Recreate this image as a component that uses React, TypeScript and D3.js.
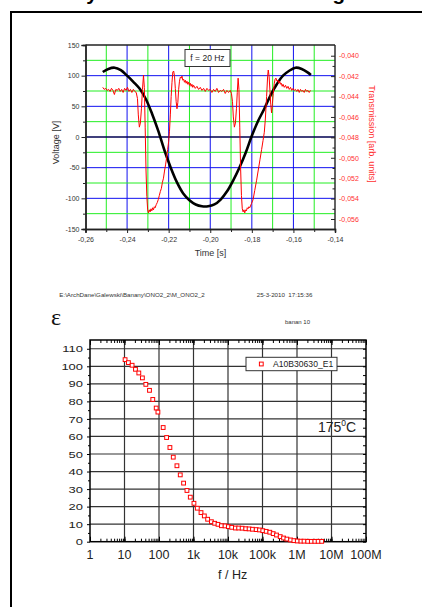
import { useEffect, useRef } from "react";
import * as d3 from "d3";

// ---- top panel: voltage (left axis) and transmission (right axis) vs time ----
const voltageSeries: [number, number][] = [
  [-0.2517, 106], [-0.249, 111], [-0.246, 113], [-0.243, 109], [-0.24, 100],
  [-0.237, 90], [-0.234, 79], [-0.231, 62], [-0.228, 38], [-0.225, 10],
  [-0.222, -22], [-0.219, -50], [-0.216, -74], [-0.213, -92], [-0.21, -103],
  [-0.207, -110], [-0.204, -113], [-0.201, -113], [-0.198, -110], [-0.195, -102],
  [-0.192, -89], [-0.189, -71], [-0.186, -50], [-0.183, -26], [-0.18, 2],
  [-0.177, 26], [-0.174, 46], [-0.171, 68], [-0.168, 86], [-0.165, 100],
  [-0.162, 108], [-0.159, 113], [-0.156, 111], [-0.153, 105], [-0.1516, 101],
];

const transmissionSeries: [number, number][] = [
  [-0.2517, -0.0431], [-0.251, -0.0433], [-0.2503, -0.0432], [-0.2496, -0.0434],
  [-0.2489, -0.0433], [-0.2482, -0.0435], [-0.2475, -0.0432], [-0.2468, -0.0434],
  [-0.2461, -0.0438], [-0.2454, -0.0433], [-0.2447, -0.0434], [-0.244, -0.0432],
  [-0.2433, -0.0435], [-0.2426, -0.0433], [-0.2419, -0.0436], [-0.2412, -0.0432],
  [-0.2405, -0.0434], [-0.2398, -0.0431], [-0.2391, -0.0435], [-0.2384, -0.0433],
  [-0.2377, -0.0436], [-0.237, -0.0433], [-0.2363, -0.0435], [-0.2356, -0.0436],
  [-0.235, -0.0442], [-0.2346, -0.0458], [-0.2341, -0.047], [-0.2336, -0.0466],
  [-0.2331, -0.0452], [-0.2326, -0.0433], [-0.2321, -0.0419], [-0.2317, -0.0431],
  [-0.2313, -0.047], [-0.2309, -0.0512], [-0.2305, -0.0538], [-0.2301, -0.0551],
  [-0.2297, -0.0554], [-0.2293, -0.0551], [-0.2289, -0.0553], [-0.2285, -0.055],
  [-0.2281, -0.0552], [-0.2277, -0.0549], [-0.2273, -0.0551], [-0.2269, -0.0548],
  [-0.2265, -0.0549], [-0.226, -0.0546], [-0.2255, -0.0544], [-0.225, -0.0541],
  [-0.2245, -0.0537], [-0.224, -0.0533], [-0.2235, -0.053], [-0.223, -0.0524],
  [-0.2225, -0.052], [-0.222, -0.0513], [-0.2215, -0.0507], [-0.221, -0.05],
  [-0.2205, -0.0492], [-0.22, -0.0484], [-0.2196, -0.0474], [-0.2192, -0.0458],
  [-0.2188, -0.044], [-0.2184, -0.0426], [-0.218, -0.0416], [-0.2176, -0.0415],
  [-0.2172, -0.042], [-0.2168, -0.0432], [-0.2164, -0.0445], [-0.216, -0.0452],
  [-0.2156, -0.0446], [-0.2152, -0.0433], [-0.2148, -0.0425], [-0.2144, -0.0421],
  [-0.214, -0.0422], [-0.2136, -0.042], [-0.2132, -0.0424], [-0.2128, -0.0423],
  [-0.2124, -0.0426], [-0.212, -0.0424], [-0.2116, -0.0427], [-0.2112, -0.0425],
  [-0.2108, -0.0428], [-0.2104, -0.0426], [-0.21, -0.0429], [-0.2096, -0.0427],
  [-0.2092, -0.043], [-0.2088, -0.0428], [-0.2084, -0.0431], [-0.208, -0.0429],
  [-0.2072, -0.0432], [-0.2064, -0.043], [-0.2056, -0.0433], [-0.2048, -0.0431],
  [-0.204, -0.0434], [-0.2032, -0.0432], [-0.2024, -0.0435], [-0.2016, -0.0432],
  [-0.2008, -0.0434], [-0.2, -0.0433], [-0.1992, -0.0436], [-0.1984, -0.0433],
  [-0.1976, -0.0435], [-0.1968, -0.0432], [-0.196, -0.0436], [-0.1952, -0.0434],
  [-0.1944, -0.0435], [-0.1936, -0.0433], [-0.1928, -0.0437], [-0.192, -0.0434],
  [-0.1912, -0.0436], [-0.1904, -0.0434], [-0.1898, -0.0437], [-0.1893, -0.0445],
  [-0.1889, -0.046], [-0.1884, -0.047], [-0.1879, -0.0466], [-0.1874, -0.0452],
  [-0.187, -0.0436], [-0.1866, -0.0422], [-0.1862, -0.0433], [-0.1858, -0.047],
  [-0.1854, -0.051], [-0.185, -0.0537], [-0.1846, -0.055], [-0.1842, -0.0553],
  [-0.1838, -0.0551], [-0.1834, -0.0554], [-0.183, -0.0551], [-0.1826, -0.0552],
  [-0.1822, -0.0549], [-0.1818, -0.055], [-0.1814, -0.0548], [-0.181, -0.0549],
  [-0.1802, -0.0545], [-0.1794, -0.0541], [-0.1786, -0.0532], [-0.1777, -0.0522],
  [-0.1769, -0.0512], [-0.1761, -0.0502], [-0.1753, -0.0492], [-0.1746, -0.0483],
  [-0.174, -0.0475], [-0.1735, -0.0462], [-0.1729, -0.044], [-0.1724, -0.042],
  [-0.1721, -0.0414], [-0.1717, -0.042], [-0.1713, -0.0434], [-0.1709, -0.0448],
  [-0.1705, -0.0456], [-0.1701, -0.0447], [-0.1697, -0.0437], [-0.1692, -0.0427],
  [-0.1688, -0.0423], [-0.1684, -0.0422], [-0.1679, -0.0425], [-0.1674, -0.0424],
  [-0.167, -0.0427], [-0.1666, -0.0425], [-0.1662, -0.0428], [-0.1658, -0.0427],
  [-0.1654, -0.043], [-0.165, -0.0428], [-0.1644, -0.0431], [-0.1638, -0.0429],
  [-0.1632, -0.0432], [-0.1626, -0.043], [-0.162, -0.0433], [-0.1614, -0.0431],
  [-0.1608, -0.0434], [-0.1602, -0.0432], [-0.1596, -0.0434], [-0.159, -0.0433],
  [-0.1584, -0.0435], [-0.1578, -0.0433], [-0.1572, -0.0436], [-0.1566, -0.0433],
  [-0.156, -0.0435], [-0.1554, -0.0434], [-0.1548, -0.0436], [-0.1542, -0.0433],
  [-0.1536, -0.0435], [-0.153, -0.0434], [-0.1524, -0.0436], [-0.1518, -0.0434],
];

const timeTicks = [-0.26, -0.24, -0.22, -0.2, -0.18, -0.16, -0.14];
const timeMinorTicks = [-0.25, -0.23, -0.21, -0.19, -0.17, -0.15];
const voltageTicks = [-150, -100, -50, 0, 50, 100, 150];
const voltageMinorTicks = [-125, -75, -25, 25, 75, 125];
const transTicks = [-0.04, -0.042, -0.044, -0.046, -0.048, -0.05, -0.052, -0.054, -0.056];
const transMinorTicks = [-0.041, -0.043, -0.045, -0.047, -0.049, -0.051, -0.053, -0.055];

// ---- bottom panel: permittivity vs frequency ----
const freqHz = [
  10.4, 13, 16.6, 20.8, 26, 33, 41.5, 53, 66, 83, 93, 132, 166, 207, 259, 331, 413,
  516, 646, 807, 1030, 1290, 1650, 2060, 2570, 3300, 4110, 5130, 6450, 8220, 10250,
  12800, 16400, 20400, 25700, 32700, 40900, 51300, 65600, 81900, 102000, 128000,
  163000, 204000, 255000, 326000, 408000, 509000, 652000, 813000, 1020000, 1300000,
  1600000, 2050000, 2600000, 3300000, 4100000, 5200000,
];
const epsilon = [
  103.8, 102.1, 100.6, 98.3, 96.2, 93.4, 89.7, 86.3, 81.1, 76.2, 73.9, 65.1, 59.4,
  53.7, 48.2, 43.3, 38.1, 33.4, 29.2, 25.4, 21.9, 19.1, 16.6, 14.7, 12.8, 11.4, 10.5,
  9.9, 9.1, 9.0, 8.6, 8.2, 7.8, 7.8, 7.7, 7.4, 7.3, 7.1, 6.9, 6.7, 6.3, 5.9, 5.4, 4.6,
  3.8, 2.9, 2.1, 1.5, 1.0, 0.6, 0.4, 0.3, 0.3, 0.2, 0.2, 0.2, 0.2, 0.2,
];
const freqTicks = [1, 10, 100, 1e3, 1e4, 1e5, 1e6, 1e7, 1e8];
const freqLabels = ["1", "10", "100", "1k", "10k", "100k", "1M", "10M", "100M"];
const epsTicks = [0, 10, 20, 30, 40, 50, 60, 70, 80, 90, 100, 110];
const epsMinorTicks = [5, 15, 25, 35, 45, 55, 65, 75, 85, 95, 105];

const FONT = "Arial, 'Liberation Sans', sans-serif";
const GREEN = "#22ee22";
const BLUE = "#1010f0";
const RED = "#ff0000";

const App = () => {
  const ref = useRef<SVGSVGElement>(null);

  useEffect(() => {
    const svg = d3.select(ref.current);
    svg.selectAll("*").remove();

    // page frame and cut-off heading
    svg.append("path")
      .attr("d", "M11,607 L11,12 L440,12")
      .attr("fill", "none")
      .attr("stroke", "#000")
      .attr("stroke-width", 2);
    svg.append("text")
      .attr("x", 71.5)
      .attr("y", 0.3)
      .attr("font-family", FONT)
      .attr("font-weight", "bold")
      .attr("font-size", 20.5)
      .text("Dynamic Kerr cell switching");

    // ===== top chart =====
    const T = { left: 85.5, right: 335, top: 45, bottom: 229 };
    const tx = d3.scaleLinear().domain([-0.26, -0.14]).range([T.left, T.right]);
    const vy = d3.scaleLinear().domain([-150, 150]).range([T.bottom, T.top]);
    const ry = d3.scaleLinear().domain([-0.05698, -0.03895]).range([T.bottom, T.top]);
    const g1 = svg.append("g");

    // grid
    const vLines = [
      ...timeMinorTicks.map((t) => ({ t, c: GREEN })),
      ...timeTicks.slice(1, -1).map((t) => ({ t, c: BLUE })),
    ];
    g1.selectAll(".gv").data(vLines).enter().append("line")
      .attr("x1", (d) => tx(d.t)).attr("x2", (d) => tx(d.t))
      .attr("y1", T.top).attr("y2", T.bottom)
      .attr("stroke", (d) => d.c).attr("stroke-width", 1);
    const hLines = [
      ...voltageMinorTicks.map((v) => ({ v, c: GREEN, w: 1 })),
      ...[-100, -50, 50, 100].map((v) => ({ v, c: BLUE, w: 1 })),
      { v: 0, c: "#000050", w: 1.3 },
    ];
    g1.selectAll(".gh").data(hLines).enter().append("line")
      .attr("x1", T.left).attr("x2", T.right)
      .attr("y1", (d) => vy(d.v)).attr("y2", (d) => vy(d.v))
      .attr("stroke", (d) => d.c).attr("stroke-width", (d) => d.w);

    // voltage curve
    const vLine = d3.line<[number, number]>()
      .x((d) => tx(d[0])).y((d) => vy(d[1]))
      .curve(d3.curveCatmullRom);
    g1.append("path").datum(voltageSeries)
      .attr("d", vLine).attr("fill", "none")
      .attr("stroke", "#000").attr("stroke-width", 2.6);

    // transmission curve
    const rLine = d3.line<[number, number]>()
      .x((d) => tx(d[0])).y((d) => ry(d[1]));
    g1.append("path").datum(transmissionSeries)
      .attr("d", rLine).attr("fill", "none")
      .attr("stroke", RED).attr("stroke-width", 1);

    // f = 20 Hz box
    g1.append("rect")
      .attr("x", 185).attr("y", 49.5).attr("width", 45).attr("height", 17)
      .attr("fill", "#fff").attr("stroke", "#333").attr("stroke-width", 1);
    g1.append("text")
      .attr("x", 207.5).attr("y", 61)
      .attr("text-anchor", "middle")
      .attr("font-family", FONT).attr("font-size", 8.5).attr("fill", "#222")
      .text("f = 20 Hz");

    const styleAxis = (sel: any, color: string, size: number) => {
      sel.selectAll("path.domain").attr("stroke", "#222").attr("stroke-width", 1.4);
      sel.selectAll(".tick line").attr("stroke", "#222").attr("stroke-width", 1);
      sel.selectAll("text")
        .attr("font-family", FONT).attr("font-size", size).attr("fill", color);
      sel.attr("font-family", null).attr("font-size", null);
    };

    const ax1 = g1.append("g").attr("transform", `translate(${T.left},0)`)
      .call(d3.axisLeft(vy).tickValues(voltageTicks).tickSize(4).tickPadding(2)
        .tickFormat((d) => String(d)));
    styleAxis(ax1, "#333", 7);
    const ax1m = g1.append("g").attr("transform", `translate(${T.left},0)`)
      .call(d3.axisLeft(vy).tickValues(voltageMinorTicks).tickSize(2.5).tickFormat(() => ""));
    styleAxis(ax1m, "#333", 7);

    const ax2 = g1.append("g").attr("transform", `translate(0,${T.bottom})`)
      .call(d3.axisBottom(tx).tickValues(timeTicks).tickSize(4).tickPadding(4)
        .tickFormat((d) => (+d).toFixed(2).replace(".", ",")));
    styleAxis(ax2, "#333", 7);
    const ax2m = g1.append("g").attr("transform", `translate(0,${T.bottom})`)
      .call(d3.axisBottom(tx).tickValues(timeMinorTicks).tickSize(3).tickFormat(() => ""));
    styleAxis(ax2m, "#333", 7);

    const ax3 = g1.append("g").attr("transform", `translate(${T.right},0)`)
      .call(d3.axisRight(ry).tickValues(transTicks).tickSize(-4).tickPadding(4)
        .tickFormat((d) => (+d).toFixed(3).replace(".", ",")));
    styleAxis(ax3, "#ff3030", 7);
    ax3.selectAll("path.domain").attr("d", `M0,${T.top}V${T.bottom}`);
    const ax3m = g1.append("g").attr("transform", `translate(${T.right},0)`)
      .call(d3.axisRight(ry).tickValues(transMinorTicks).tickSize(-2.5).tickFormat(() => ""));
    styleAxis(ax3m, "#ff3030", 7);
    ax3m.selectAll("path.domain").remove();

    g1.append("line")
      .attr("x1", T.left).attr("x2", T.right).attr("y1", T.top).attr("y2", T.top)
      .attr("stroke", "#222").attr("stroke-width", 1.4);

    g1.append("text")
      .attr("transform", `translate(59,142.5) rotate(-90)`)
      .attr("text-anchor", "middle")
      .attr("font-family", FONT).attr("font-size", 9).attr("fill", "#333")
      .text("Voltage [V]");
    g1.append("text")
      .attr("transform", `translate(369,134) rotate(90)`)
      .attr("text-anchor", "middle")
      .attr("font-family", FONT).attr("font-size", 9).attr("fill", "#ff3030")
      .text("Transmission [arb. units]");
    g1.append("text")
      .attr("x", 210.5).attr("y", 256)
      .attr("text-anchor", "middle")
      .attr("font-family", FONT).attr("font-size", 9).attr("fill", "#333")
      .text("Time [s]");

    // ===== header texts for bottom chart =====
    svg.append("text")
      .attr("x", 59.3).attr("y", 297)
      .attr("font-family", FONT).attr("font-size", 6.2).attr("fill", "#333")
      .text("E:\\ArchDane\\Galewski\\Banany\\ONO2_2\\M_ONO2_2");
    svg.append("text")
      .attr("x", 256.7).attr("y", 297)
      .attr("font-family", FONT).attr("font-size", 6.2).attr("fill", "#333")
      .text("25-3-2010");
    svg.append("text")
      .attr("x", 288.3).attr("y", 297)
      .attr("font-family", FONT).attr("font-size", 6.2).attr("fill", "#333")
      .text("17:15:36");
    svg.append("text")
      .attr("x", 297.5).attr("y", 323.5)
      .attr("text-anchor", "middle")
      .attr("font-family", FONT).attr("font-size", 6).attr("fill", "#333")
      .text("banan 10");
    svg.append("text")
      .attr("x", 51).attr("y", 325)
      .attr("font-family", "'Liberation Serif', 'DejaVu Serif', serif")
      .attr("font-size", 24).attr("fill", "#111")
      .text("ε");

    // ===== bottom chart =====
    const B = { left: 90, right: 366, top: 340, bottom: 541.7 };
    const fx = d3.scaleLog().domain([1, 1e8]).range([B.left, B.right]);
    const ey = d3.scaleLinear().domain([0, 115]).range([B.bottom, B.top]);
    const g2 = svg.append("g");

    g2.selectAll(".bv").data(freqTicks.slice(1, -1)).enter().append("line")
      .attr("x1", (d) => fx(d)).attr("x2", (d) => fx(d))
      .attr("y1", B.top).attr("y2", B.bottom)
      .attr("stroke", "#333").attr("stroke-width", 1.2);
    g2.selectAll(".bh").data(epsTicks.slice(1)).enter().append("line")
      .attr("x1", B.left).attr("x2", B.right)
      .attr("y1", (d) => ey(d)).attr("y2", (d) => ey(d))
      .attr("stroke", "#333").attr("stroke-width", 1.2);

    const minorF = fx.ticks();
    const tickAxis = (axis: any, tf: string) => {
      const a = g2.append("g").attr("transform", tf).call(axis);
      a.selectAll("path.domain").remove();
      a.selectAll(".tick line").attr("stroke", "#000").attr("stroke-width", 1);
      a.selectAll("text").remove();
      return a;
    };
    tickAxis(d3.axisBottom(fx).tickValues(minorF).tickSize(-3), `translate(0,${B.bottom})`);
    tickAxis(d3.axisBottom(fx).tickValues(freqTicks).tickSize(-5), `translate(0,${B.bottom})`);
    tickAxis(d3.axisTop(fx).tickValues(minorF).tickSize(-3), `translate(0,${B.top})`);
    tickAxis(d3.axisTop(fx).tickValues(freqTicks).tickSize(-5), `translate(0,${B.top})`);
    tickAxis(d3.axisLeft(ey).tickValues(epsTicks).tickSize(3), `translate(${B.left},0)`);
    tickAxis(d3.axisLeft(ey).tickValues(epsMinorTicks).tickSize(2), `translate(${B.left},0)`);
    tickAxis(d3.axisRight(ey).tickValues([...epsTicks, ...epsMinorTicks]).tickSize(-3), `translate(${B.right},0)`);

    g2.append("rect")
      .attr("x", B.left).attr("y", B.top)
      .attr("width", B.right - B.left).attr("height", B.bottom - B.top)
      .attr("fill", "none").attr("stroke", "#000").attr("stroke-width", 1.5);

    // tick labels
    g2.selectAll(".xl").data(freqTicks).enter().append("text")
      .attr("x", (d) => fx(d)).attr("y", 559.3)
      .attr("text-anchor", "middle")
      .attr("font-family", FONT).attr("font-size", 12.5).attr("fill", "#222")
      .text((d, i) => freqLabels[i]);
    g2.selectAll(".yl").data(epsTicks).enter().append("text")
      .attr("transform", (d) => `translate(83,${ey(d) + 3.6}) scale(1.08,0.82)`)
      .attr("text-anchor", "end")
      .attr("font-family", FONT).attr("font-size", 12).attr("fill", "#222")
      .text((d) => String(d));
    g2.append("text")
      .attr("x", 232.7).attr("y", 578.5)
      .attr("text-anchor", "middle")
      .attr("font-family", FONT).attr("font-size", 12.5).attr("fill", "#222")
      .text("f / Hz");

    // markers
    const pts = freqHz.map((f, i) => ({ f, e: epsilon[i] }));
    g2.selectAll(".pt").data(pts).enter().append("rect")
      .attr("x", (d) => fx(d.f) - 1.9).attr("y", (d) => ey(d.e) - 1.9)
      .attr("width", 3.8).attr("height", 3.8)
      .attr("fill", "#fff").attr("stroke", RED).attr("stroke-width", 1);

    // legend
    g2.append("rect")
      .attr("x", 246).attr("y", 357.3).attr("width", 91).attr("height", 13.4)
      .attr("fill", "#fff").attr("stroke", "#333").attr("stroke-width", 1);
    g2.append("rect")
      .attr("x", 259.4).attr("y", 362.1).attr("width", 3.8).attr("height", 3.8)
      .attr("fill", "#fff").attr("stroke", RED).attr("stroke-width", 1);
    g2.append("text")
      .attr("x", 273).attr("y", 367.4)
      .attr("font-family", FONT).attr("font-size", 8.6).attr("fill", "#222")
      .text("A10B30630_E1");

    // temperature annotation
    const tt = g2.append("text")
      .attr("x", 318).attr("y", 431.5)
      .attr("font-family", FONT).attr("font-size", 14).attr("fill", "#222");
    tt.append("tspan").text("175");
    tt.append("tspan").attr("dy", -6).attr("font-size", 8.5).text("0");
    tt.append("tspan").attr("dy", 6).text("C");
  }, []);

  return (
    <svg
      ref={ref}
      width={422}
      height={607}
      style={{ position: "absolute", left: 0, top: 0, display: "block", background: "#fff" }}
    />
  );
};

export default App;
